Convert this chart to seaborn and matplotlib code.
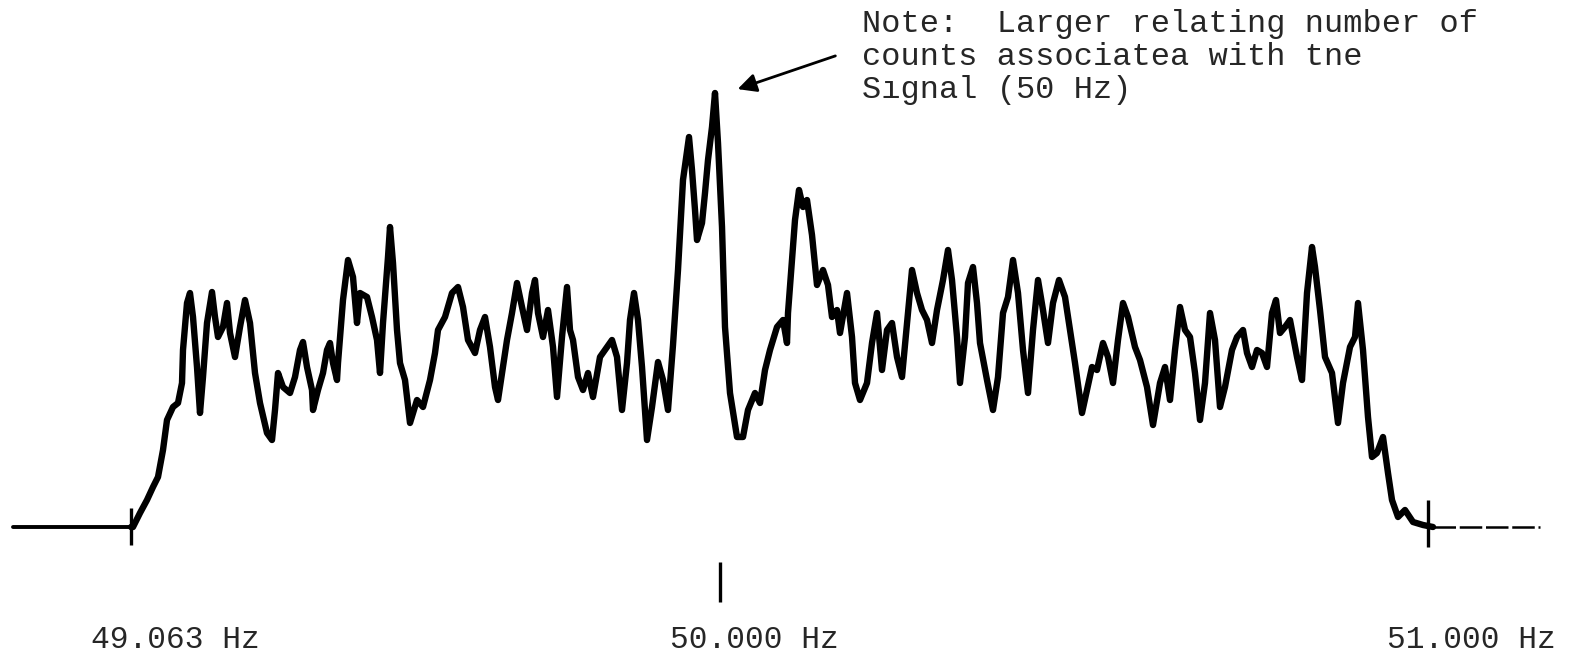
import matplotlib
matplotlib.use("Agg")
import matplotlib.pyplot as plt
import seaborn as sns
import pandas as pd

# Trace: position along the sweep and counts above baseline
position = [13, 131, 133, 140, 147, 153, 158, 163, 167, 173, 178, 182, 183, 187, 190, 193, 197, 200, 203, 207,
            212, 215, 218, 223, 227, 230, 235, 240, 245, 250, 255, 260, 267, 272, 275, 278, 283, 290, 295, 300,
            303, 307, 312, 313, 318, 323, 327, 330, 333, 337, 338, 343, 348, 353, 357, 360, 367, 372, 377, 380,
            383, 388, 390, 393, 397, 400, 405, 410, 417, 423, 430, 435, 438, 445, 452, 458, 463, 468, 475, 480,
            485, 490, 495, 498, 503, 507, 512, 517, 522, 527, 532, 535, 538, 543, 548, 553, 557, 562, 567, 570,
            573, 578, 583, 588, 593, 600, 607, 612, 617, 622, 627, 630, 634, 638, 642, 647, 652, 658, 663, 668,
            673, 678, 683, 689, 692, 695, 697, 702, 705, 708, 712, 715, 718, 722, 725, 730, 737, 743, 748, 755,
            760, 765, 770, 777, 783, 787, 788, 792, 795, 799, 803, 807, 812, 817, 823, 828, 832, 837, 840, 847,
            852, 855, 860, 867, 872, 877, 882, 887, 892, 897, 902, 907, 912, 917, 922, 927, 932, 937, 943, 948,
            952, 957, 960, 965, 968, 973, 977, 980, 987, 993, 998, 1003, 1008, 1013, 1018, 1023, 1028, 1033, 1038, 1043,
            1048, 1053, 1059, 1065, 1070, 1075, 1082, 1087, 1092, 1097, 1103, 1108, 1113, 1118, 1123, 1128, 1135, 1140, 1147, 1153,
            1160, 1165, 1170, 1175, 1180, 1185, 1190, 1195, 1200, 1205, 1210, 1215, 1220, 1225, 1232, 1237, 1243, 1247, 1252, 1257,
            1262, 1267, 1272, 1276, 1280, 1285, 1290, 1297, 1302, 1307, 1312, 1315, 1320, 1325, 1332, 1338, 1343, 1350, 1355, 1358,
            1363, 1368, 1372, 1377, 1383, 1388, 1392, 1398, 1405, 1413, 1423, 1433, 1540]
counts = [0, 0, 0, 14, 27, 40, 50, 77, 107, 120, 124, 144, 177, 224, 234, 210, 160, 114, 150, 204,
          235, 210, 190, 200, 224, 194, 170, 200, 227, 204, 154, 124, 94, 87, 117, 154, 140, 134, 150, 177,
          185, 160, 137, 117, 137, 154, 177, 184, 164, 147, 164, 227, 267, 250, 204, 234, 230, 210, 187, 154,
          204, 270, 300, 264, 197, 164, 147, 104, 127, 120, 147, 174, 197, 210, 234, 240, 220, 187, 174, 197,
          210, 180, 140, 127, 160, 187, 214, 244, 220, 197, 234, 247, 214, 190, 217, 180, 130, 190, 240, 197,
          187, 150, 137, 154, 130, 170, 180, 187, 170, 117, 164, 207, 234, 207, 160, 87, 120, 165, 147, 117,
          182, 257, 347, 390, 357, 317, 287, 304, 334, 367, 400, 434, 384, 300, 200, 134, 90, 90, 117, 134,
          124, 157, 177, 200, 207, 184, 214, 267, 307, 337, 320, 327, 292, 242, 257, 242, 210, 217, 194, 234,
          190, 144, 127, 144, 184, 214, 157, 197, 204, 170, 150, 204, 257, 234, 217, 207, 184, 217, 247, 277,
          247, 190, 144, 190, 244, 260, 224, 184, 147, 117, 150, 214, 230, 267, 234, 177, 134, 197, 247, 217,
          184, 224, 247, 230, 197, 164, 114, 137, 160, 157, 184, 170, 144, 187, 224, 210, 180, 167, 140, 102,
          144, 160, 127, 177, 220, 197, 190, 154, 107, 144, 214, 187, 120, 140, 177, 190, 197, 174, 160, 177,
          174, 160, 214, 227, 194, 200, 207, 170, 147, 234, 280, 260, 217, 170, 154, 104, 144, 180, 190, 224,
          177, 110, 70, 74, 90, 54, 27, 10, 17, 5, 2, 0, 0]

# Frequency markers under the trace
marker_pos = [131, 720, 1428]
marker_low = [-18, -75, -20]
marker_high = [19, -35, 27]
freq_labels = ["49.063 Hz", "50.000 Hz", "51.000 Hz"]
label_pos = [175, 754, 1471]

note_lines = ["Note:  Larger relating number of",
              "counts associatea with tne",
              "S\u0131gnal (50 Hz)"]

df = pd.DataFrame({"position": position, "counts": counts})
sweep = df[(df["position"] >= 131) & (df["position"] <= 1433)]
left_tail = df[df["position"] <= 131]
right_tail = df[df["position"] >= 1433]

sns.set_style("white")
plt.rcParams["font.family"] = ["Liberation Mono", "DejaVu Sans Mono"]

fig = plt.figure(figsize=(15.72, 6.58), dpi=100)
ax = fig.add_axes([0, 0, 1, 1])

sns.lineplot(data=sweep, x="position", y="counts", ax=ax, sort=False, estimator=None,
             color="black", linewidth=4.6, solid_joinstyle="round", solid_capstyle="round")
sns.lineplot(data=left_tail, x="position", y="counts", ax=ax, sort=False, estimator=None,
             color="black", linewidth=2.8)
sns.lineplot(data=right_tail, x="position", y="counts", ax=ax, sort=False, estimator=None,
             color="black", linewidth=1.8, linestyle=(0, (9, 1.5)))

ax.vlines(marker_pos, marker_low, marker_high, color="black", linewidth=2.4)

for x, lab in zip(label_pos, freq_labels):
    ax.text(x, -113, lab, ha="center", va="center", fontsize=22.5)

ax.text(862, 518, "\n".join(note_lines), ha="left", va="top", fontsize=23, linespacing=1.12)
ax.annotate("", xy=(735, 437), xytext=(838, 472),
            arrowprops=dict(arrowstyle="-|>", color="black", lw=2, mutation_scale=28))

ax.set_xlim(0, 1572)
ax.set_ylim(-131, 527)
ax.axis("off")

plt.savefig("out.png", dpi=100, facecolor="white")
